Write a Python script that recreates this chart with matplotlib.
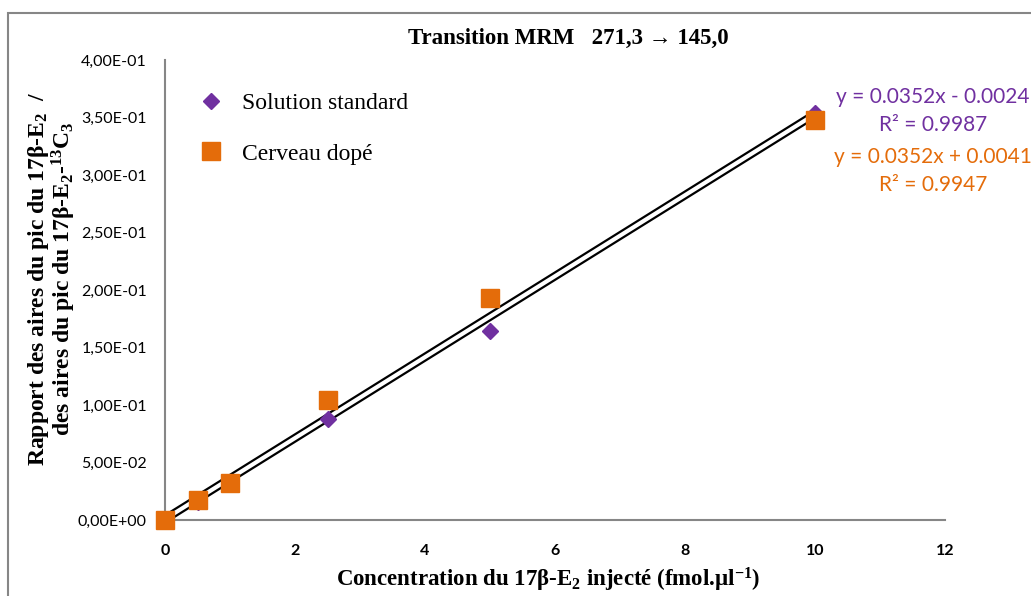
import matplotlib

matplotlib.use("Agg")
import matplotlib.pyplot as plt
import numpy as np
from matplotlib.patches import Rectangle

# donnees
conc = [0, 0.5, 1, 2.5, 5, 10]
ratio_standard = [0.0, 0.016, 0.032, 0.088, 0.164, 0.354]
ratio_cerveau = [0.0, 0.0175, 0.032, 0.104, 0.193, 0.348]

pente_standard, origine_standard, r2_standard = 0.0352, -0.0024, 0.9987
pente_cerveau, origine_cerveau, r2_cerveau = 0.0352, 0.0041, 0.9947

y_ticks = [0.0, 0.05, 0.10, 0.15, 0.20, 0.25, 0.30, 0.35, 0.40]
x_ticks = [0, 2, 4, 6, 8, 10, 12]

VIOLET = "#7030A0"
ORANGE = "#E46C0A"
GRIS = "#868686"

plt.rcParams["mathtext.fontset"] = "custom"
plt.rcParams["mathtext.rm"] = "Liberation Serif:bold"
plt.rcParams["mathtext.it"] = "Liberation Serif:bold"
plt.rcParams["mathtext.bf"] = "Liberation Serif:bold"

SERIF = ["Liberation Serif", "DejaVu Serif"]
SANS = ["Lato", "DejaVu Sans"]


def fmt_sci(v):
    return f"{v:.2E}".replace(".", ",")


W, H = 1031, 596
fig = plt.figure(figsize=(W / 100, H / 100), dpi=100)
ax = fig.add_axes([165 / W, 1 - 520 / H, (945 - 165) / W, (520 - 60) / H])

# cadre exterieur
fig.patches.append(Rectangle((8 / W, -0.1), 1.2, 1 - 13 / H + 0.1,
                             transform=fig.transFigure, fill=False,
                             edgecolor=GRIS, linewidth=1.5))

xs = np.array([0, 10])
ax.plot(xs, pente_standard * xs + origine_standard, color="black", lw=1.6, zorder=2)
ax.plot(xs, pente_cerveau * xs + origine_cerveau, color="black", lw=1.6, zorder=2)

ax.plot(conc, ratio_standard, ls="none", marker="D", ms=8, color=VIOLET,
        label="Solution standard", zorder=3, clip_on=False)
ax.plot(conc, ratio_cerveau, ls="none", marker="s", ms=13.5, color=ORANGE,
        label="Cerveau dopé", zorder=4, clip_on=False)

ax.set_xlim(0, 12)
ax.set_ylim(0, 0.40)
ax.set_xticks(x_ticks)
ax.set_yticks(y_ticks)
ax.set_yticklabels([fmt_sci(v) for v in y_ticks], family=SANS, fontsize=11.5)
ax.set_xticklabels([str(v) for v in x_ticks], family=SANS, fontsize=11.5,
                   fontweight="bold")
ax.tick_params(length=0, pad=13)
ax.tick_params(axis="x", pad=17)
for s in ["top", "right"]:
    ax.spines[s].set_visible(False)
for s in ["left", "bottom"]:
    ax.spines[s].set_color(GRIS)
    ax.spines[s].set_linewidth(1.5)

ax.legend(loc="upper left", bbox_to_anchor=(0.016, 0.975), frameon=False,
          prop={"family": SERIF, "size": 17}, labelspacing=1.22,
          handletextpad=0.85, handlelength=1.0)

fig.text(568 / W, 1 - 38 / H, "Transition MRM   271,3 → 145,0", family=SERIF,
         fontsize=16.5, fontweight="bold", ha="center", va="center")

fig.text(548 / W, 1 - 580 / H,
         "Concentration du 17β-E$_2$ injecté (fmol.µl$^{-1}$)",
         family=SERIF, fontsize=16.5, fontweight="bold", ha="center", va="center")
ax.set_ylabel("Rapport des aires du pic du 17β-E$_2$  /\ndes aires du pic du 17β-E$_2$-$^{13}$C$_3$",
              family=SERIF, fontsize=17, fontweight="bold", linespacing=0.95)
ax.yaxis.set_label_coords(-87 / 780, 0.525)

eq_x = 933 / W
fig.text(eq_x, 1 - 97 / H, f"y = {pente_standard}x - {abs(origine_standard)}",
         color=VIOLET, family=SANS, fontsize=15, ha="center", va="center")
fig.text(eq_x, 1 - 125 / H, f"R² = {r2_standard}", color=VIOLET, family=SANS,
         fontsize=15, ha="center", va="center")
fig.text(eq_x, 1 - 157 / H, f"y = {pente_cerveau}x + {origine_cerveau}",
         color=ORANGE, family=SANS, fontsize=15, ha="center", va="center")
fig.text(eq_x, 1 - 185 / H, f"R² = {r2_cerveau}", color=ORANGE, family=SANS,
         fontsize=15, ha="center", va="center")

fig.savefig("out.png", dpi=100)
